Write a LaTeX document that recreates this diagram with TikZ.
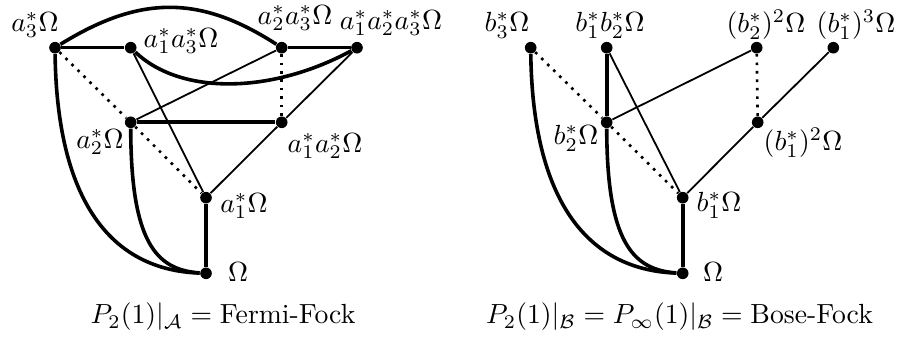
\documentclass[tikz,border=0pt]{standalone}
\usepackage{amsmath,amssymb}
\usepackage{tikz}

\begin{document}
\begin{tikzpicture}[x=0.0127cm, y=-0.0127cm,
  vtx/.style={circle, fill, inner sep=0pt, minimum size=4.2pt},
  lbl/.style={inner sep=0pt},
  heavy/.style={line width=1.3pt},
  light/.style={line width=0.65pt},
  dots/.style={line width=0.95pt, dash pattern=on 0.95pt off 2.1pt}]
  \useasboundingbox (0,0) rectangle (897,341);
  % Fermi-Fock
  \node[vtx] (a3) at (55,47.7) {};
  \node[vtx] (a13) at (130.7,47.7) {};
  \node[vtx] (a23) at (281.7,47.7) {};
  \node[vtx] (a123) at (357,47.7) {};
  \node[vtx] (a2) at (130.7,122.3) {};
  \node[vtx] (a12) at (281.7,122.3) {};
  \node[vtx] (a1) at (206,197.7) {};
  \node[vtx] (o1) at (206,273.3) {};
  \draw[heavy] (a3) -- (a13);
  \draw[heavy] (a23) -- (a123);
  \draw[heavy] (a2) -- (a12);
  \draw[heavy] (a1) -- (o1);
  \draw[heavy] (a3) .. controls +(85,-52.7) and +(-81.7,-52.7) .. (a23);
  \draw[heavy] (a13) .. controls +(49.3,47) and +(-87,47) .. (a123);
  \draw[heavy] (a2) .. controls +(0.3,118) and +(-51,-3.3) .. (o1);
  \draw[heavy] (a3) .. controls +(2,152) and +(-96,-3.3) .. (o1);
  \draw[light] (a13) -- (a1);
  \draw[light] (a23) -- (a2);
  \draw[light] (a123) -- (a12);
  \draw[light] (a12) -- (a1);
  \draw[dots] (a3) -- (a2);
  \draw[dots] (a2) -- (a1);
  \draw[dots] (a23) -- (a12);
  \node[lbl] (la3) at (35,25) {$a_3^*\Omega$};
  \node[lbl] (la13) at (181,41) {$a_1^*a_3^*\Omega$};
  \node[lbl] (la23) at (295,18) {$a_2^*a_3^*\Omega$};
  \node[lbl] (la123) at (391,23) {$a_1^*a_2^*a_3^*\Omega$};
  \node[lbl] (la2) at (100,142) {$a_2^*\Omega$};
  \node[lbl] (la12) at (325,146) {$a_1^*a_2^*\Omega$};
  \node[lbl] (la1) at (244,206) {$a_1^*\Omega$};
  \node[lbl] (lo1) at (238,272) {$\Omega$};
  \node[lbl] (cap1) at (223,317) {$P_2(1)|_{\mathcal{A}} = \text{Fermi-Fock}$};
  % Bose-Fock
  \node[vtx] (b3) at (530.7,47.7) {};
  \node[vtx] (b12) at (606.7,47.7) {};
  \node[vtx] (b22) at (756.7,47.7) {};
  \node[vtx] (b111) at (833.3,47.7) {};
  \node[vtx] (b2) at (606.7,122.3) {};
  \node[vtx] (b11) at (757.7,122.3) {};
  \node[vtx] (b1) at (682.7,197.7) {};
  \node[vtx] (o2) at (682.7,273.3) {};
  \draw[heavy] (b12) -- (b2);
  \draw[heavy] (b1) -- (o2);
  \draw[heavy] (b2) .. controls +(0.3,118) and +(-51,-3.3) .. (o2);
  \draw[heavy] (b3) .. controls +(2,152) and +(-96,-3.3) .. (o2);
  \draw[light] (b12) -- (b1);
  \draw[light] (b2) -- (b22);
  \draw[light] (b111) -- (b11);
  \draw[light] (b11) -- (b1);
  \draw[dots] (b3) -- (b2);
  \draw[dots] (b2) -- (b1);
  \draw[dots] (b22) -- (b11);
  \node[lbl] (lb3) at (507,25) {$b_3^*\Omega$};
  \node[lbl] (lb12) at (610,25) {$b_1^*b_2^*\Omega$};
  \node[lbl] (lb22) at (766,25) {$(b_2^*)^2\Omega$};
  \node[lbl] (lb111) at (856,25) {$(b_1^*)^3\Omega$};
  \node[lbl] (lb2) at (576,138) {$b_2^*\Omega$};
  \node[lbl] (lb11) at (803,143) {$(b_1^*)^2\Omega$};
  \node[lbl] (lb1) at (719,205) {$b_1^*\Omega$};
  \node[lbl] (lo2) at (713,272) {$\Omega$};
  \node[lbl] (cap2) at (679.5,317) {$P_2(1)|_{\mathcal{B}} = P_\infty(1)|_{\mathcal{B}} = \text{Bose-Fock}$};
\end{tikzpicture}
\end{document}
